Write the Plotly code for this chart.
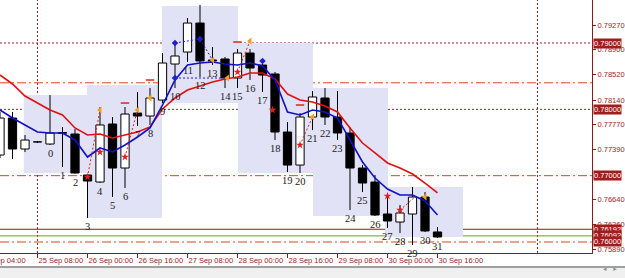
import plotly.graph_objects as go

# ---------------- data ----------------
idx = list(range(-4, 32))
open_ = [0.77311, 0.77869, 0.77402, 0.77507, 0.77477, 0.77650, 0.77628, 0.77010, 0.76904, 0.77779,
         0.77115, 0.77944, 0.77899, 0.78140, 0.78683, 0.78864, 0.79301, 0.78744, 0.78759, 0.78472,
         0.78849, 0.78668, 0.78533, 0.77658, 0.77160, 0.77884, 0.78171, 0.77884, 0.77643, 0.77115,
         0.76904, 0.76422, 0.76301, 0.76422, 0.76678, 0.76151]
high = [0.77960, 0.77960, 0.77613, 0.77522, 0.78216, 0.77733, 0.77703, 0.77025, 0.78035, 0.77884,
        0.78035, 0.78261, 0.78321, 0.78849, 0.78970, 0.79377, 0.79573, 0.78940, 0.78789, 0.78909,
        0.78909, 0.78744, 0.78563, 0.77809, 0.77944, 0.78276, 0.78321, 0.78276, 0.77733, 0.77160,
        0.77010, 0.76678, 0.76557, 0.76829, 0.76753, 0.76226]
low = [0.77266, 0.77251, 0.77356, 0.77492, 0.77462, 0.77130, 0.77030, 0.76361, 0.76889, 0.76678,
       0.76814, 0.77748, 0.77764, 0.78095, 0.78321, 0.78713, 0.78487, 0.78668, 0.78321, 0.78321,
       0.78442, 0.78261, 0.77537, 0.77055, 0.77040, 0.77688, 0.77764, 0.77537, 0.76482, 0.76753,
       0.76392, 0.76211, 0.76135, 0.75954, 0.76151, 0.76060]
close = [0.77869, 0.77402, 0.77537, 0.77510, 0.77643, 0.77640, 0.77040, 0.76919, 0.77764, 0.77115,
         0.77929, 0.77899, 0.78171, 0.78698, 0.78804, 0.79301, 0.78729, 0.78729, 0.78472, 0.78849,
         0.78623, 0.78517, 0.77658, 0.77160, 0.77884, 0.78186, 0.77884, 0.77643, 0.77115, 0.76889,
         0.76407, 0.76316, 0.76437, 0.76678, 0.76166, 0.76075]
ma_slow = [0.78518, 0.78382, 0.78201, 0.78095, 0.77990, 0.77915, 0.77719, 0.77613, 0.77628, 0.77568,
           0.77613, 0.77658, 0.77734, 0.78005, 0.78171, 0.78292, 0.78352, 0.78412, 0.78457, 0.78487,
           0.78548, 0.78548, 0.78457, 0.78231, 0.78141, 0.78111, 0.78050, 0.77960, 0.77719, 0.77492,
           0.77342, 0.77191, 0.77116, 0.77025, 0.76889, 0.76739]
ma_fast = [0.77990, 0.77869, 0.77764, 0.77658, 0.77643, 0.77643, 0.77538, 0.77281, 0.77417, 0.77357,
           0.77462, 0.77583, 0.77719, 0.78065, 0.78442, 0.78668, 0.78699, 0.78714, 0.78683, 0.78668,
           0.78699, 0.78653, 0.78442, 0.77960, 0.77915, 0.77990, 0.77960, 0.77869, 0.77538, 0.77206,
           0.76965, 0.76799, 0.76709, 0.76709, 0.76618, 0.76407]

# time labels (bar index -> label)
tick_idx = [-1, 3, 7, 11, 15, 19, 23, 27, 31]
tick_txt = ["25 Sep 08:00", "26 Sep 00:00", "26 Sep 16:00", "27 Sep 08:00", "28 Sep 00:00",
            "28 Sep 16:00", "29 Sep 08:00", "30 Sep 00:00", "30 Sep 16:00"]
first_label = "25 Sep 04:00"

# price scale labels
price_ticks = [0.79270, 0.78900, 0.78520, 0.78140, 0.77770, 0.77390, 0.76640, 0.76260, 0.75890]
price_tick_txt = ["0.79270", "0.78900", "0.78520", "0.78140", "0.77770", "0.77390",
                  "0.76640", "0.76260", "0.75890"]

# shaded zones: (start idx, end idx, top, bottom)
zones = [(-2.1, 3.0, 0.78216, 0.77040), (2.96, 8.96, 0.78367, 0.76361), (8.96, 15.04, 0.79558, 0.78095),
         (15.04, 21.04, 0.79000, 0.77040), (21.04, 27.04, 0.78321, 0.76392), (26.8, 33.04, 0.76829, 0.76075)]

# horizontal levels
dotted_levels = [0.79000, 0.78000]
dashdot_levels = [0.78400, 0.77000, 0.76000]
bid_level = 0.76192
ask_level = 0.76092
vlines = [-1, 39]
level_boxes = [0.79000, 0.78000, 0.77000, 0.76192, 0.76092, 0.76000]

# trade markers
red_star_x = [3, 4, 6, 15, 20, 27, 28, 17.8]
red_star_y = [0.76980, 0.77356, 0.77281, 0.78563, 0.77462, 0.76693, 0.76482, 0.77990]
orange_x = [4, 7, 8, 13, 16, 21, 30, 14.2]
orange_y = [0.77990, 0.77990, 0.78171, 0.78744, 0.79030, 0.77884, 0.76678, 0.78472]
blue_x = [10, 10, 12, 17]
blue_y = [0.79000, 0.78472, 0.79060, 0.78729]
dash_x = [6, 8, 15, 20]
dash_y = [0.78095, 0.78442, 0.79015, 0.78065]
red_links = [((3, 0.76980), (4, 0.77990)), ((6, 0.77281), (7, 0.77990)), ((15, 0.78563), (16, 0.79030)),
             ((20, 0.77462), (21, 0.77884)), ((28, 0.76482), (29.2, 0.76678))]
blue_links = [((10, 0.79000), (12, 0.79060)), ((12, 0.79060), (13, 0.78744)), ((10, 0.78472), (14.2, 0.78472))]

# ---------------- figure ----------------
DARK = "#8b1a1a"
TXT = "#962626"
fig = go.Figure()

# wicks
wx, wy = [], []
for i, o, h, l, c in zip(idx, open_, high, low, close):
    top, bot = max(o, c), min(o, c)
    wx += [i, i, None, i, i, None]
    wy += [h, top, None, bot, l, None]
fig.add_trace(go.Scatter(x=wx, y=wy, mode="lines", line=dict(color="black", width=1),
                         hoverinfo="skip", showlegend=False))

# bodies
fig.add_trace(go.Bar(
    x=idx, base=[min(o, c) for o, c in zip(open_, close)],
    y=[max(abs(c - o), 0.00002) for o, c in zip(open_, close)],
    width=0.66,
    marker=dict(color=["white" if c >= o else "black" for o, c in zip(open_, close)],
                line=dict(color="black", width=1)),
    showlegend=False, hoverinfo="skip"))

# moving averages
fig.add_trace(go.Scatter(x=idx, y=ma_slow, mode="lines", line=dict(color="#e01010", width=1.6),
                         showlegend=False, hoverinfo="skip"))
fig.add_trace(go.Scatter(x=idx, y=ma_fast, mode="lines", line=dict(color="#1010c8", width=1.6),
                         showlegend=False, hoverinfo="skip"))

# marker links
for (a, b) in red_links:
    fig.add_trace(go.Scatter(x=[a[0], b[0]], y=[a[1], b[1]], mode="lines",
                             line=dict(color="#e02020", width=1, dash="2px,2px"),
                             showlegend=False, hoverinfo="skip"))
for (a, b) in blue_links:
    fig.add_trace(go.Scatter(x=[a[0], b[0]], y=[a[1], b[1]], mode="lines",
                             line=dict(color="#2020d0", width=1, dash="2px,2px"),
                             showlegend=False, hoverinfo="skip"))

fig.add_trace(go.Scatter(x=red_star_x, y=red_star_y, mode="markers",
                         marker=dict(symbol="star", size=6, color="#e02020"),
                         showlegend=False, hoverinfo="skip"))
fig.add_trace(go.Scatter(x=orange_x, y=orange_y, mode="markers",
                         marker=dict(symbol="triangle-left", size=6, color="#f0a020"),
                         showlegend=False, hoverinfo="skip"))
fig.add_trace(go.Scatter(x=blue_x, y=blue_y, mode="markers",
                         marker=dict(symbol="diamond", size=5, color="#2020d0"),
                         showlegend=False, hoverinfo="skip"))
fig.add_trace(go.Scatter(x=dash_x, y=dash_y, mode="markers",
                         marker=dict(symbol="line-ew-open", size=6, color="#e02020",
                                     line=dict(color="#e02020", width=1.5)),
                         showlegend=False, hoverinfo="skip"))

shapes = []
for x0, x1, y0, y1 in zones:
    shapes.append(dict(type="rect", xref="x", yref="y", x0=x0, x1=x1, y0=y0, y1=y1,
                       fillcolor="#e2e2f6", line=dict(width=0), layer="below"))
for lv in dotted_levels:
    shapes.append(dict(type="line", xref="paper", yref="y", x0=0, x1=1, y0=lv, y1=lv,
                       line=dict(color="#a02020", width=1, dash="2px,2px"), layer="below"))
for lv in dashdot_levels:
    shapes.append(dict(type="line", xref="paper", yref="y", x0=0, x1=1, y0=lv, y1=lv,
                       line=dict(color="#e04418", width=1, dash="9px,3px,2px,3px"), layer="below"))
for vx in vlines:
    shapes.append(dict(type="line", xref="x", yref="paper", x0=vx, x1=vx, y0=0, y1=1,
                       line=dict(color="#a02020", width=1, dash="2px,2px"), layer="below"))
shapes.append(dict(type="line", xref="paper", yref="y", x0=0, x1=1, y0=bid_level, y1=bid_level,
                   line=dict(color="#8b1a1a", width=1), layer="below"))
shapes.append(dict(type="line", xref="paper", yref="y", x0=0, x1=1, y0=ask_level, y1=ask_level,
                   line=dict(color="#6a9a30", width=1), layer="below"))
# bottom scroll bar
shapes.append(dict(type="rect", xref="paper", yref="paper", x0=-0.01, x1=1.07, y0=-0.12, y1=-0.0553,
                   fillcolor="#f0f0f0", line=dict(width=0)))
shapes.append(dict(type="line", xref="paper", yref="paper", x0=-0.01, x1=1.07, y0=-0.0553, y1=-0.0553,
                   line=dict(color="#a0a0a0", width=2)))

annotations = []
for i, l in zip(idx, low):
    if i >= 0:
        annotations.append(dict(x=i, y=l, xref="x", yref="y", text=str(i), showarrow=False,
                                yanchor="top", yshift=-1,
                                font=dict(family="Liberation Serif", size=10.5, color="#202020")))
for lv in level_boxes:
    annotations.append(dict(x=1, y=lv, xref="paper", yref="y", text=f"{lv:.5f}", showarrow=False,
                            xanchor="left", yanchor="middle", xshift=1,
                            bgcolor="#a31c1c", borderpad=0,
                            font=dict(family="Liberation Sans", size=7.5, color="white")))
annotations.append(dict(x=0, y=-0.028, xref="paper", yref="paper", text=first_label, showarrow=False,
                        xanchor="right", yanchor="middle", xshift=28,
                        font=dict(family="Liberation Sans", size=7.5, color=TXT)))
annotations.append(dict(x=1, y=-0.085, xref="paper", yref="paper", text="◂&nbsp;&nbsp;&nbsp;▸",
                        showarrow=False, xanchor="left", xshift=9,
                        font=dict(family="DejaVu Sans", size=7, color="#909090")))

fig.update_layout(
    width=625, height=278, autosize=False,
    margin=dict(l=0, r=33, t=0, b=25, pad=0),
    paper_bgcolor="white", plot_bgcolor="white",
    showlegend=False, barmode="overlay",
    shapes=shapes, annotations=annotations,
    xaxis=dict(range=[-4, 43.36], showgrid=False, zeroline=False, showline=True,
               linecolor=DARK, linewidth=1, ticks="outside", ticklen=4, tickcolor=DARK,
               tickvals=tick_idx, ticktext=tick_txt, ticklabelposition="outside right",
               tickangle=0, automargin=False,
               tickfont=dict(family="Liberation Sans", size=7.5, color=TXT), fixedrange=True),
    yaxis=dict(range=[0.75834, 0.796483], side="right", showgrid=False, zeroline=False,
               showline=True, linecolor=DARK, linewidth=1, ticks="outside", ticklen=3,
               tickcolor=DARK, tickvals=price_ticks, ticktext=price_tick_txt, automargin=False,
               tickfont=dict(family="Liberation Sans", size=7.5, color=TXT), fixedrange=True),
)

fig.write_html("out.html")
